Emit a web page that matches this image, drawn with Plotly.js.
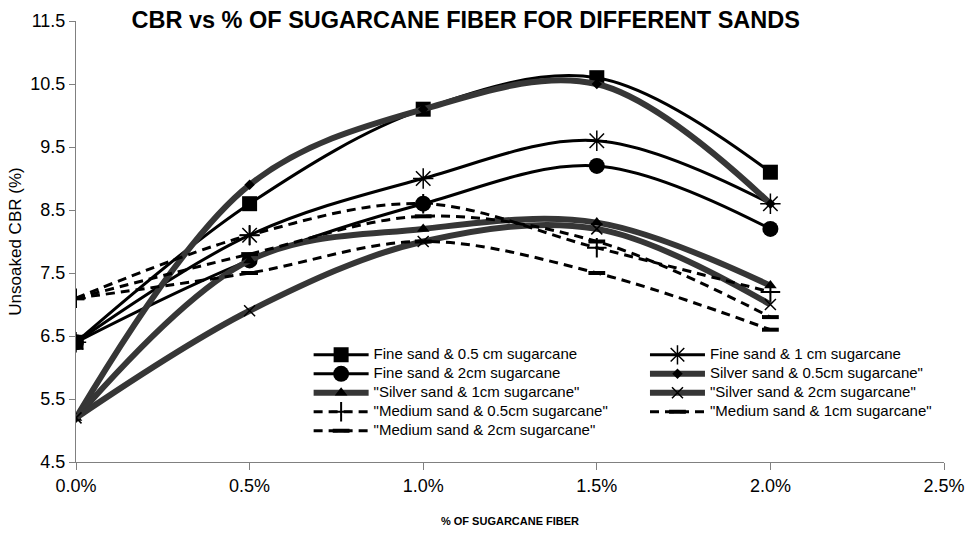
<!DOCTYPE html>
<html>
<head>
<meta charset="utf-8">
<script src="https://cdn.plot.ly/plotly-3.0.1.min.js"></script>
<style>
html,body{margin:0;padding:0;background:#fff;}
#chart{width:965px;height:533px;}
</style>
</head>
<body>
<div id="chart"></div>
<script>
// Fibre content (fraction) and CBR values (%)
const fiber = [0, 0.005, 0.01, 0.015, 0.02];
const fine05 = [6.4, 8.6, 10.1, 10.6, 9.1];
const fine1 = [6.4, 8.1, 9.0, 9.6, 8.6];
const fine2 = [6.4, 7.7, 8.6, 9.2, 8.2];
const silver05 = [5.2, 8.9, 10.1, 10.5, 8.6];
const silver1 = [5.2, 7.7, 8.2, 8.3, 7.3];
const silver2 = [5.2, 6.9, 8.0, 8.2, 7.0];
const medium05 = [7.1, 8.1, 8.6, 7.9, 7.2];
const medium1 = [7.1, 7.8, 8.4, 8.0, 6.8];
const medium2 = [7.1, 7.5, 8.0, 7.5, 6.6];
const names = [
  'Fine sand & 0.5 cm sugarcane',
  'Fine sand & 1 cm sugarcane',
  'Fine sand & 2cm sugarcane',
  'Silver sand & 0.5cm sugarcane"',
  '"Silver sand & 1cm sugarcane"',
  '"Silver sand & 2cm sugarcane"',
  '"Medium sand & 0.5cm sugarcane"',
  '"Medium sand & 1cm sugarcane"',
  '"Medium sand & 2cm sugarcane"'
];
const ticksY = [4.5, 5.5, 6.5, 7.5, 8.5, 9.5, 10.5, 11.5];
const ticksX = [0, 0.005, 0.01, 0.015, 0.02, 0.025];

const solid = {color: '#000', width: 3, shape: 'spline', smoothing: 1};
const hatch = {color: '#363636', width: 6, shape: 'spline', smoothing: 1};
const dashed = {color: '#000', width: 3, dash: '9px,6px', shape: 'spline', smoothing: 1};

function esc(s) { return s.replace(/&/g, '&amp;'); }
function tr(y, name, line, marker, lg) {
  return {x: fiber, y: y, name: '<span style="font-size:15px">' + esc(name) + '</span>',
          type: 'scatter', mode: 'lines+markers', line: line, marker: marker, legend: lg};
}
const data = [
  tr(fine05, names[0], solid, {symbol: 'square', size: 15, color: '#000'}, 'legend'),
  tr(fine1, names[1], solid, {symbol: 'asterisk-open', size: 17, color: '#000', line: {color: '#000', width: 1.5}}, 'legend2'),
  tr(fine2, names[2], solid, {symbol: 'circle', size: 16, color: '#000'}, 'legend'),
  tr(silver05, names[3], hatch, {symbol: 'diamond', size: 8, color: '#000'}, 'legend2'),
  tr(silver1, names[4], hatch, {symbol: 'triangle-up', size: 11, color: '#000'}, 'legend'),
  tr(silver2, names[5], hatch, {symbol: 'x-thin-open', size: 11, color: '#000', line: {color: '#000', width: 1.5}}, 'legend2'),
  tr(medium05, names[6], dashed, {symbol: 'cross-thin-open', size: 14, color: '#000', line: {color: '#000', width: 2}}, 'legend'),
  tr(medium1, names[7], dashed, {symbol: 'line-ew-open', size: 12, color: '#000', line: {color: '#444', width: 4}}, 'legend2'),
  tr(medium2, names[8], dashed, {symbol: 'line-ew-open', size: 12, color: '#000', line: {color: '#000', width: 4}}, 'legend')
];

const font = 'Liberation Sans, Arial, sans-serif';
const legendBase = {orientation: 'v', xanchor: 'left', y: 0.276, yanchor: 'top', bgcolor: 'rgba(255,255,255,0)',
                    font: {size: 12, family: font}, tracegroupgap: 0, itemwidth: 55};
const layout = {
  width: 965, height: 533,
  margin: {l: 76, r: 21, t: 21, b: 71},
  paper_bgcolor: '#fff', plot_bgcolor: '#fff',
  font: {family: font, color: '#000'},
  title: {text: '<b>CBR vs % OF SUGARCANE FIBER FOR DIFFERENT SANDS</b>', font: {size: 23.5, family: font, color: '#000'},
          xref: 'paper', x: 0.449, xanchor: 'center', yref: 'container', y: 0.962, yanchor: 'middle'},
  xaxis: {range: [0, 0.025], tickvals: ticksX, tickformat: '.1%', showgrid: false, zeroline: false, automargin: false,
          showline: true, linecolor: '#808080', linewidth: 1, ticks: 'outside', ticklen: 7, tickcolor: '#808080',
          tickfont: {size: 18, family: font},
          title: {text: '<b>% OF SUGARCANE FIBER</b>', font: {size: 11, family: font}, standoff: 22}},
  yaxis: {range: [4.5, 11.5], tickvals: ticksY, ticktext: ticksY.map(v => v.toFixed(1)), showgrid: false, zeroline: false, automargin: false,
          showline: true, linecolor: '#808080', linewidth: 1, ticks: 'outside', ticklen: 6, tickcolor: '#808080',
          tickfont: {size: 18, family: font},
          title: {text: 'Unsoaked CBR (%)', font: {size: 17, family: font}, standoff: 4}},
  legend: Object.assign({}, legendBase, {x: 0.268}),
  legend2: Object.assign({}, legendBase, {x: 0.6555}),
  showlegend: true
};
Plotly.newPlot('chart', data, layout, {displayModeBar: false, staticPlot: true});
</script>
</body>
</html>
